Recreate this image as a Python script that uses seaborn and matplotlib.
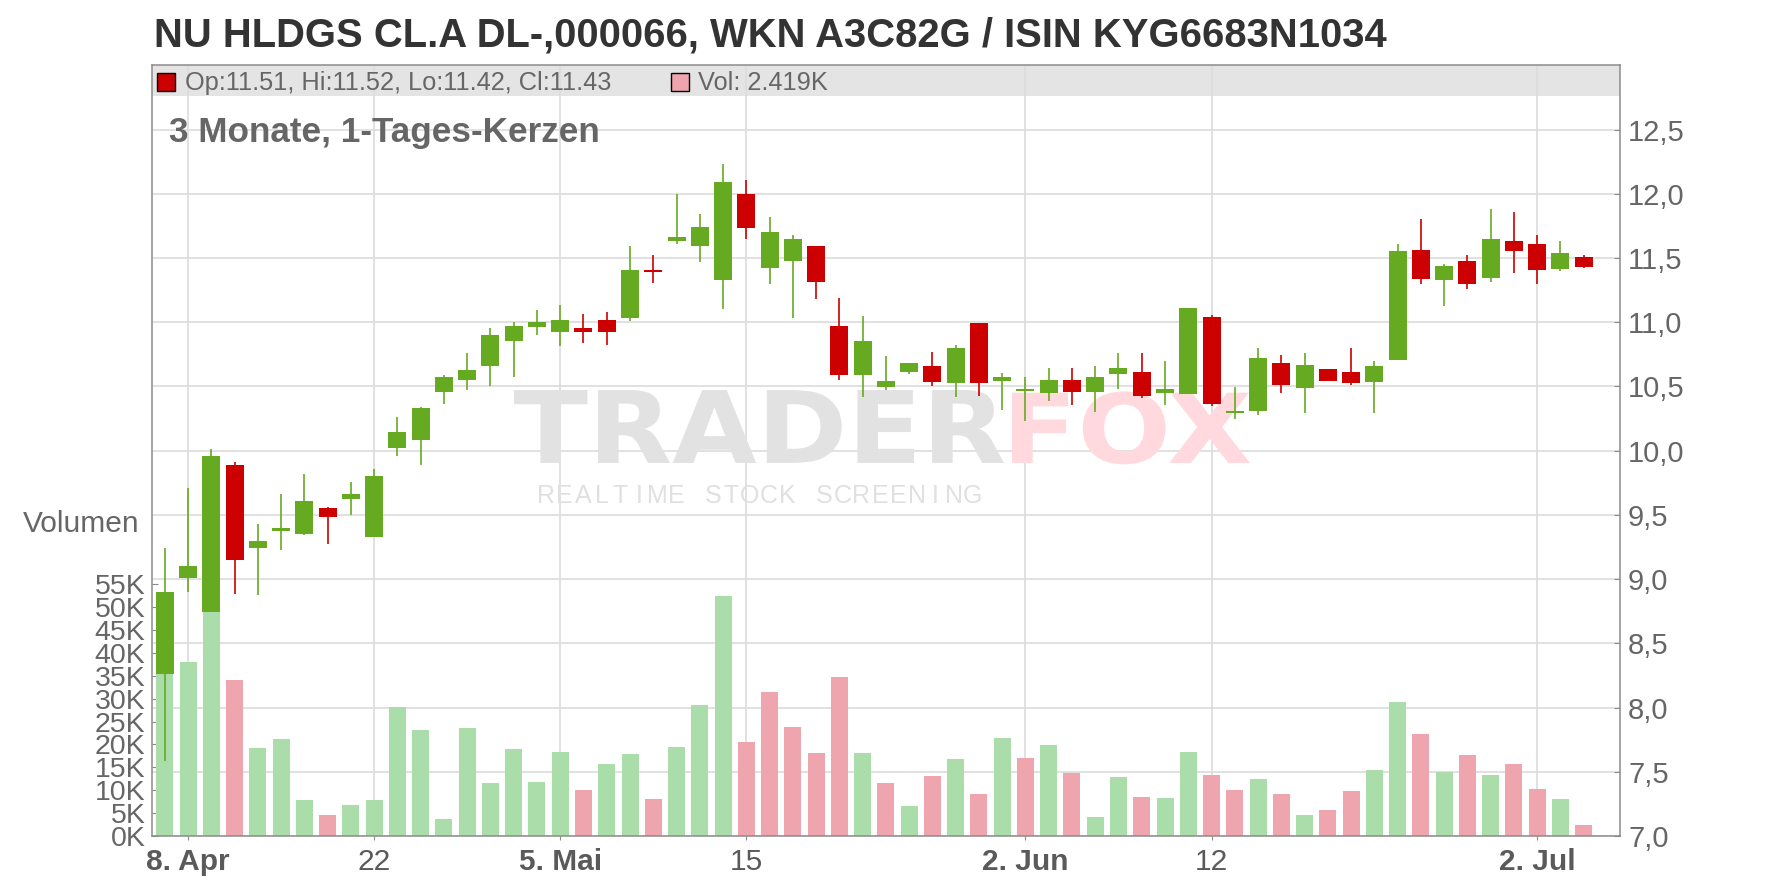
import numpy as np
import pandas as pd
import matplotlib
matplotlib.use("Agg")
import matplotlib.pyplot as plt
from matplotlib.patches import Rectangle, PathPatch
from matplotlib.textpath import TextPath
from matplotlib.font_manager import FontProperties
from matplotlib.transforms import Affine2D
import seaborn as sns

# daily candles, 62 trading days (EUR)
opens = [8.26, 9.01, 8.74, 9.89, 9.245, 9.375, 9.355, 9.55, 9.62, 9.33,
         10.02, 10.08, 10.455, 10.55, 10.66, 10.855, 10.96, 10.925, 10.955, 11.02,
         11.035, 11.41, 11.63, 11.595, 11.325, 12.00, 11.425, 11.48, 11.59, 10.97,
         10.59, 10.495, 10.61, 10.66, 10.525, 10.995, 10.54, 10.465, 10.45, 10.55,
         10.455, 10.595, 10.61, 10.45, 10.44, 11.04, 10.295, 10.31, 10.68, 10.485,
         10.635, 10.61, 10.535, 10.705, 11.565, 11.33, 11.48, 11.345, 11.635, 11.605,
         11.415, 11.51]
highs = [9.245, 9.71, 10.01, 9.91, 9.43, 9.66, 9.815, 9.56, 9.755, 9.86,
         10.26, 10.34, 10.59, 10.76, 10.955, 11.00, 11.095, 11.135, 11.065, 11.08,
         11.59, 11.525, 11.995, 11.845, 12.23, 12.11, 11.82, 11.68, 11.595, 11.19,
         11.05, 10.735, 10.68, 10.77, 10.825, 10.995, 10.605, 10.575, 10.645, 10.645,
         10.66, 10.76, 10.76, 10.70, 11.11, 11.055, 10.495, 10.80, 10.745, 10.76,
         10.635, 10.80, 10.70, 11.605, 11.805, 11.455, 11.525, 11.88, 11.855, 11.68,
         11.63, 11.52]
lows = [7.58, 8.90, 8.74, 8.885, 8.88, 9.23, 9.34, 9.27, 9.50, 9.33,
        9.955, 9.89, 10.36, 10.475, 10.50, 10.575, 10.90, 10.815, 10.84, 10.825,
        11.01, 11.305, 11.605, 11.47, 11.105, 11.65, 11.30, 11.035, 11.18, 10.55,
        10.415, 10.47, 10.595, 10.50, 10.415, 10.425, 10.315, 10.23, 10.385, 10.355,
        10.30, 10.48, 10.41, 10.355, 10.44, 10.345, 10.245, 10.275, 10.45, 10.29,
        10.54, 10.51, 10.29, 10.705, 11.30, 11.13, 11.26, 11.315, 11.38, 11.30,
        11.395, 11.42]
closes = [8.90, 9.10, 9.96, 9.15, 9.30, 9.395, 9.61, 9.48, 9.665, 9.80,
          10.145, 10.33, 10.575, 10.63, 10.90, 10.97, 11.00, 11.02, 10.925, 10.925,
          11.41, 11.39, 11.665, 11.745, 12.09, 11.735, 11.705, 11.65, 11.315, 10.59,
          10.855, 10.54, 10.68, 10.535, 10.80, 10.525, 10.575, 10.48, 10.55, 10.455,
          10.575, 10.645, 10.425, 10.48, 11.11, 10.36, 10.31, 10.72, 10.51, 10.665,
          10.54, 10.525, 10.66, 11.555, 11.34, 11.44, 11.30, 11.65, 11.555, 11.41,
          11.535, 11.43]
# volume in thousand shares
volumes = [44.0, 38.0, 58.0, 34.1, 19.2, 21.2, 7.9, 4.6, 6.8, 7.9,
           28.2, 23.2, 3.7, 23.6, 11.6, 19.0, 11.8, 18.4, 10.1, 15.7,
           17.9, 8.1, 19.4, 28.6, 52.4, 20.5, 31.5, 23.8, 18.1, 34.7,
           18.1, 11.6, 6.6, 13.1, 16.8, 9.2, 21.4, 17.0, 19.9, 13.8,
           4.2, 12.9, 8.5, 8.3, 18.4, 13.3, 10.1, 12.5, 9.2, 4.6,
           5.7, 9.8, 14.4, 29.3, 22.3, 14.0, 17.7, 13.3, 15.7, 10.3,
           8.1, 2.419]

price_ticks = [7.0, 7.5, 8.0, 8.5, 9.0, 9.5, 10.0, 10.5, 11.0, 11.5, 12.0, 12.5]
vol_ticks = [0, 5, 10, 15, 20, 25, 30, 35, 40, 45, 50, 55]
date_pos = [1, 9, 17, 25, 37, 45, 59]
date_labels = ['8. Apr', '22', '5. Mai', '15', '2. Jun', '12', '2. Jul']
month_labels = ['8. Apr', '5. Mai', '2. Jun', '2. Jul']

title = 'NU HLDGS CL.A DL-,000066, WKN A3C82G / ISIN KYG6683N1034'
subtitle = '3 Monate, 1-Tages-Kerzen'

GREEN = '#66aa22'
RED = '#cc0000'
VOL_GREEN = '#abddab'
VOL_RED = '#eea5ad'
GRID = '#dcdcdc'
AXIS = '#8c8c8c'
TEXT = '#666666'

sns.set_style('white')
plt.rcParams['font.family'] = ['Liberation Sans', 'DejaVu Sans']

o = np.array(opens)
h = np.array(highs)
l = np.array(lows)
c = np.array(closes)
days = np.arange(len(o))

candle_col = np.where(c >= o, GREEN, RED)
# volume colour follows close vs previous close
prev = np.concatenate([[o[0]], c[:-1]])
vol_dir = np.where(c >= prev, 'up', 'down')

df = pd.DataFrame({'day': days, 'vol': volumes, 'dir': vol_dir})

W, H = 1776, 888
fig = plt.figure(figsize=(W / 100, H / 100), dpi=100)
left, right, top, bottom = 152.3, 1620, 65.3, 836
pos = [left / W, 1 - bottom / H, (right - left) / W, (bottom - top) / H]

ax_bg = fig.add_axes(pos)
ax_vol = fig.add_axes(pos, sharex=ax_bg)
ax_p = fig.add_axes(pos, sharex=ax_bg)
for a in (ax_vol, ax_p):
    a.set_facecolor('none')

# background: grid, header band, watermark
ax_bg.set_ylim(7, 13)
ax_bg.set_yticks(price_ticks)
ax_bg.grid(True, color=GRID, linewidth=1.2)
ax_bg.set_axisbelow(True)
ax_bg.tick_params(left=False, labelleft=False, bottom=False, labelbottom=False)
for s in ax_bg.spines.values():
    s.set_visible(False)
band_y = (bottom - 96) / (bottom - top)
ax_bg.add_patch(Rectangle((0, band_y), 1, 1 - band_y, transform=ax_bg.transAxes,
                          facecolor='#e4e4e4', edgecolor='none', zorder=0.3))


def watermark(word, x0, x1, y_top, y_base, color):
    # stretch a bold text outline into the given pixel box
    tp = TextPath((0, 0), word, size=100, prop=FontProperties(family='DejaVu Sans', weight='bold'))
    ext = tp.get_extents()
    sx = (x1 - x0) / ext.width
    sy = (y_base - y_top) / ext.height
    tr = (Affine2D().translate(-ext.x0, 0).scale(sx / W, sy / H)
          .translate(x0 / W, 1 - y_base / H) + fig.transFigure)
    ax_bg.add_patch(PathPatch(tp, transform=tr, facecolor=color, edgecolor='none', zorder=1))


watermark('TRADER', 514, 1004, 390, 463, '#e2e2e2')
watermark('FOX', 1012, 1250, 390, 463, '#ffd9dd')
wm = 'REALTIME STOCK SCREENING'
for k, ch in enumerate(wm):
    ax_bg.text((546 + k * 18.55) / W, 1 - 503 / H, ch, transform=fig.transFigure,
               fontsize=18, color='#e0e0e0', ha='center', va='baseline', zorder=1)

# volume bars
sns.barplot(data=df, x='day', y='vol', hue='dir', palette={'up': VOL_GREEN, 'down': VOL_RED},
            native_scale=True, dodge=False, width=0.73, errorbar=None, legend=False,
            saturation=1, linewidth=0, ax=ax_vol)
vmax = 55 * (bottom - top) / (bottom - 584.3)
ax_vol.set_ylim(0, vmax)
ax_vol.set_yticks(vol_ticks, [f'{v}K' for v in vol_ticks])
ax_vol.set_xlabel('')
ax_vol.set_ylabel('')
ax_vol.tick_params(axis='y', left=True, direction='in', length=4, pad=5,
                   labelsize=20.5, labelcolor=TEXT, color=AXIS)
ax_vol.tick_params(axis='x', bottom=False, labelbottom=False)
for s in ax_vol.spines.values():
    s.set_visible(False)

# candles
ax_p.vlines(days, l, h, colors=candle_col, linewidth=1.2, zorder=2)
ax_p.bar(days, np.abs(c - o), bottom=np.minimum(o, c), width=0.774,
         color=candle_col, linewidth=0, zorder=3)
ax_p.set_ylim(7, 13)
ax_p.yaxis.tick_right()
ax_p.set_yticks(price_ticks, [f'{v:.1f}'.replace('.', ',') for v in price_ticks])
ax_p.tick_params(axis='y', right=True, direction='in', length=4, pad=5.8,
                 labelsize=21, labelcolor=TEXT, color=AXIS)
ax_p.set_xticks(date_pos, date_labels)
ax_p.tick_params(axis='x', bottom=True, direction='out', length=3, pad=5.8,
                 labelsize=21.5, labelcolor='#5a5a5a', color=AXIS)
for t in ax_p.get_xticklabels():
    if t.get_text() in month_labels:
        t.set_fontweight('bold')
for s in ax_p.spines.values():
    s.set_color(AXIS)
    s.set_linewidth(1.1)

ax_bg.set_xlim(-0.537, 62.56)

# texts
fig.text(153.8 / W, 1 - 46.7 / H, title, fontsize=28.8, fontweight='bold',
         color='#333333', va='baseline')
fig.text(169.3 / W, 1 - 142 / H, subtitle, fontsize=25.3, fontweight='bold',
         color=TEXT, va='baseline')
fig.text(139.3 / W, 1 - 531.7 / H, 'Volumen', fontsize=21.5, color=TEXT,
         ha='right', va='baseline')

last = len(o) - 1
fig.add_artist(Rectangle((157.3 / W, 1 - 90.7 / H), 18 / W, 18 / H, transform=fig.transFigure,
                         facecolor=candle_col[last], edgecolor='black', linewidth=1))
fig.text(184.8 / W, 1 - 90 / H,
         f'Op:{o[last]:.2f}, Hi:{h[last]:.2f}, Lo:{l[last]:.2f}, Cl:{c[last]:.2f}',
         fontsize=18.3, color=TEXT, va='baseline')
fig.add_artist(Rectangle((670.5 / W, 1 - 90.7 / H), 18 / W, 18 / H, transform=fig.transFigure,
                         facecolor=VOL_RED if vol_dir[last] == 'down' else VOL_GREEN,
                         edgecolor='black', linewidth=1))
fig.text(698 / W, 1 - 90 / H, f'Vol: {volumes[last]:.3f}K', fontsize=18.3, color=TEXT,
         va='baseline')

fig.savefig('out.png', dpi=100)
